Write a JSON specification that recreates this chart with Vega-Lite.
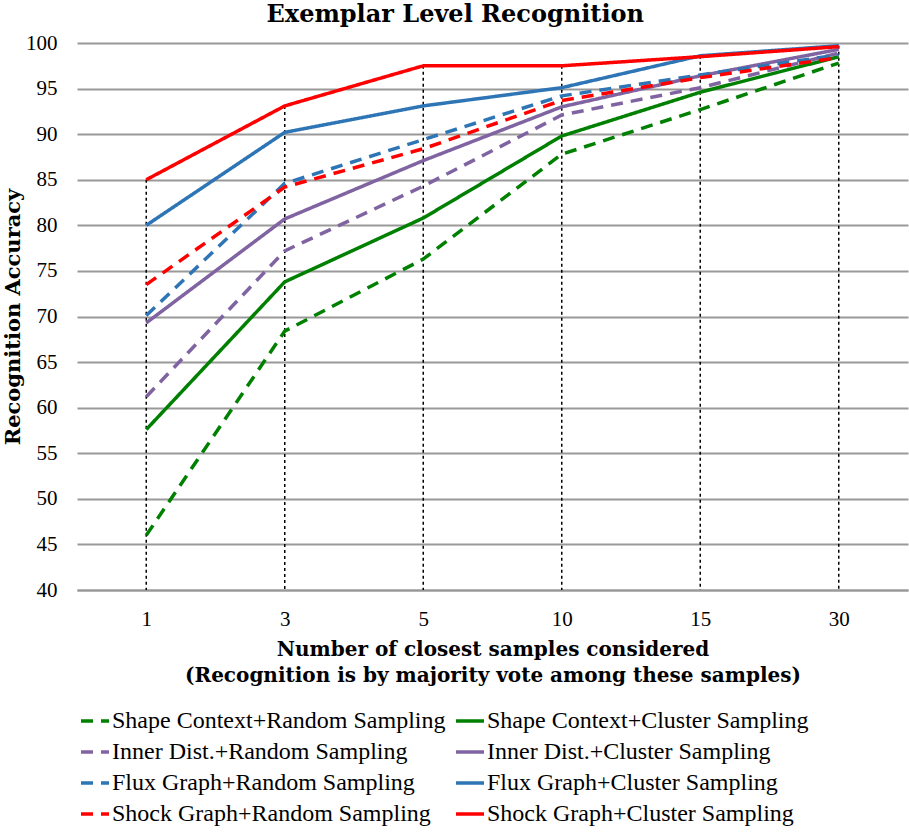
{
  "$schema": "https://vega.github.io/schema/vega-lite/v6.json",
  "width": 831,
  "height": 547,
  "autosize": {"type": "none"},
  "padding": {"left": 77, "top": 43, "right": 1, "bottom": 242},
  "background": "white",
  "title": {
    "text": "Exemplar Level Recognition",
    "font": "DejaVu Serif",
    "fontSize": 24,
    "fontWeight": "bold",
    "color": "black",
    "anchor": "middle",
    "frame": "bounds",
    "offset": 5
  },
  "config": {
    "view": {"stroke": null},
    "font": "Liberation Serif"
  },
  "data": {
    "values": [
      {"series": "Shape Context+Random Sampling", "k": 1, "acc": 46.0},
      {"series": "Shape Context+Random Sampling", "k": 3, "acc": 68.4},
      {"series": "Shape Context+Random Sampling", "k": 5, "acc": 76.3},
      {"series": "Shape Context+Random Sampling", "k": 10, "acc": 87.8},
      {"series": "Shape Context+Random Sampling", "k": 15, "acc": 92.7},
      {"series": "Shape Context+Random Sampling", "k": 30, "acc": 97.8},
      {"series": "Shape Context+Cluster Sampling", "k": 1, "acc": 57.6},
      {"series": "Shape Context+Cluster Sampling", "k": 3, "acc": 73.8},
      {"series": "Shape Context+Cluster Sampling", "k": 5, "acc": 80.8},
      {"series": "Shape Context+Cluster Sampling", "k": 10, "acc": 89.8},
      {"series": "Shape Context+Cluster Sampling", "k": 15, "acc": 94.6},
      {"series": "Shape Context+Cluster Sampling", "k": 30, "acc": 98.5},
      {"series": "Inner Dist.+Random Sampling", "k": 1, "acc": 61.2},
      {"series": "Inner Dist.+Random Sampling", "k": 3, "acc": 77.2},
      {"series": "Inner Dist.+Random Sampling", "k": 5, "acc": 84.3},
      {"series": "Inner Dist.+Random Sampling", "k": 10, "acc": 92.1},
      {"series": "Inner Dist.+Random Sampling", "k": 15, "acc": 95.1},
      {"series": "Inner Dist.+Random Sampling", "k": 30, "acc": 98.9},
      {"series": "Inner Dist.+Cluster Sampling", "k": 1, "acc": 69.3},
      {"series": "Inner Dist.+Cluster Sampling", "k": 3, "acc": 80.7},
      {"series": "Inner Dist.+Cluster Sampling", "k": 5, "acc": 87.1},
      {"series": "Inner Dist.+Cluster Sampling", "k": 10, "acc": 93.0},
      {"series": "Inner Dist.+Cluster Sampling", "k": 15, "acc": 96.4},
      {"series": "Inner Dist.+Cluster Sampling", "k": 30, "acc": 99.3},
      {"series": "Flux Graph+Random Sampling", "k": 1, "acc": 70.1},
      {"series": "Flux Graph+Random Sampling", "k": 3, "acc": 84.6},
      {"series": "Flux Graph+Random Sampling", "k": 5, "acc": 89.4},
      {"series": "Flux Graph+Random Sampling", "k": 10, "acc": 94.2},
      {"series": "Flux Graph+Random Sampling", "k": 15, "acc": 96.5},
      {"series": "Flux Graph+Random Sampling", "k": 30, "acc": 98.7},
      {"series": "Flux Graph+Cluster Sampling", "k": 1, "acc": 80.0},
      {"series": "Flux Graph+Cluster Sampling", "k": 3, "acc": 90.2},
      {"series": "Flux Graph+Cluster Sampling", "k": 5, "acc": 93.1},
      {"series": "Flux Graph+Cluster Sampling", "k": 10, "acc": 95.1},
      {"series": "Flux Graph+Cluster Sampling", "k": 15, "acc": 98.6},
      {"series": "Flux Graph+Cluster Sampling", "k": 30, "acc": 99.7},
      {"series": "Shock Graph+Random Sampling", "k": 1, "acc": 73.5},
      {"series": "Shock Graph+Random Sampling", "k": 3, "acc": 84.2},
      {"series": "Shock Graph+Random Sampling", "k": 5, "acc": 88.4},
      {"series": "Shock Graph+Random Sampling", "k": 10, "acc": 93.7},
      {"series": "Shock Graph+Random Sampling", "k": 15, "acc": 96.2},
      {"series": "Shock Graph+Random Sampling", "k": 30, "acc": 98.4},
      {"series": "Shock Graph+Cluster Sampling", "k": 1, "acc": 85.0},
      {"series": "Shock Graph+Cluster Sampling", "k": 3, "acc": 93.1},
      {"series": "Shock Graph+Cluster Sampling", "k": 5, "acc": 97.5},
      {"series": "Shock Graph+Cluster Sampling", "k": 10, "acc": 97.5},
      {"series": "Shock Graph+Cluster Sampling", "k": 15, "acc": 98.5},
      {"series": "Shock Graph+Cluster Sampling", "k": 30, "acc": 99.6}
    ]
  },
  "encoding": {
    "x": {
      "field": "k",
      "type": "ordinal",
      "scale": {"type": "point", "padding": 0.5},
      "axis": {
        "title": ["Number of closest samples considered", "(Recognition is by majority vote among these samples)"],
        "titleFont": "DejaVu Serif",
        "titleFontSize": 20,
        "titleFontWeight": "bold",
        "titleColor": "black",
        "titleLineHeight": 26,
        "titlePadding": 10,
        "labelAngle": 0,
        "labelFont": "Liberation Serif",
        "labelFontSize": 21,
        "labelColor": "black",
        "labelPadding": 18,
        "ticks": false,
        "domain": true,
        "domainColor": "#999999",
        "domainWidth": 2,
        "grid": false
      }
    }
  },
  "layer": [
    {
      "mark": {"type": "rule", "color": "black", "strokeDash": [3, 3], "strokeWidth": 1.5},
      "encoding": {
        "y": {"aggregate": "max", "field": "acc", "type": "quantitative"},
        "y2": {"datum": 40}
      }
    },
    {
      "mark": {"type": "line", "strokeWidth": 3.5},
      "encoding": {
        "y": {
          "field": "acc",
          "type": "quantitative",
          "scale": {"domain": [40, 100], "nice": false, "zero": false},
          "axis": {
            "title": "Recognition Accuracy",
            "titleFont": "DejaVu Serif",
            "titleFontSize": 21,
            "titleFontWeight": "bold",
            "titleColor": "black",
            "titlePadding": 2,
            "values": [40, 45, 50, 55, 60, 65, 70, 75, 80, 85, 90, 95, 100],
            "labelFont": "Liberation Serif",
            "labelFontSize": 21,
            "labelColor": "black",
            "labelPadding": 20,
            "ticks": false,
            "domain": false,
            "grid": true,
            "gridColor": "#999999",
            "gridWidth": 2
          }
        },
        "color": {
          "field": "series",
          "type": "nominal",
          "scale": {
            "domain": [
              "Shape Context+Random Sampling", "Shape Context+Cluster Sampling",
              "Inner Dist.+Random Sampling", "Inner Dist.+Cluster Sampling",
              "Flux Graph+Random Sampling", "Flux Graph+Cluster Sampling",
              "Shock Graph+Random Sampling", "Shock Graph+Cluster Sampling"
            ],
            "range": ["#008000", "#008000", "#8064A2", "#8064A2", "#2E75B6", "#2E75B6", "#FF0000", "#FF0000"]
          },
          "legend": {
            "title": null,
            "orient": "none",
            "direction": "horizontal",
            "legendX": 2,
            "legendY": 662,
            "columns": 2,
            "columnPadding": 3,
            "rowPadding": 3,
            "padding": 0,
            "labelFont": "Liberation Serif",
            "labelFontSize": 24,
            "labelColor": "black",
            "labelLimit": 500,
            "labelOffset": 1,
            "symbolType": "stroke",
            "symbolSize": 784,
            "symbolStrokeWidth": 3.5
          }
        },
        "strokeDash": {
          "field": "series",
          "type": "nominal",
          "scale": {
            "domain": [
              "Shape Context+Random Sampling", "Shape Context+Cluster Sampling",
              "Inner Dist.+Random Sampling", "Inner Dist.+Cluster Sampling",
              "Flux Graph+Random Sampling", "Flux Graph+Cluster Sampling",
              "Shock Graph+Random Sampling", "Shock Graph+Cluster Sampling"
            ],
            "range": [[12, 8], [1, 0], [12, 8], [1, 0], [12, 8], [1, 0], [12, 8], [1, 0]]
          },
          "legend": null
        }
      }
    }
  ]
}
